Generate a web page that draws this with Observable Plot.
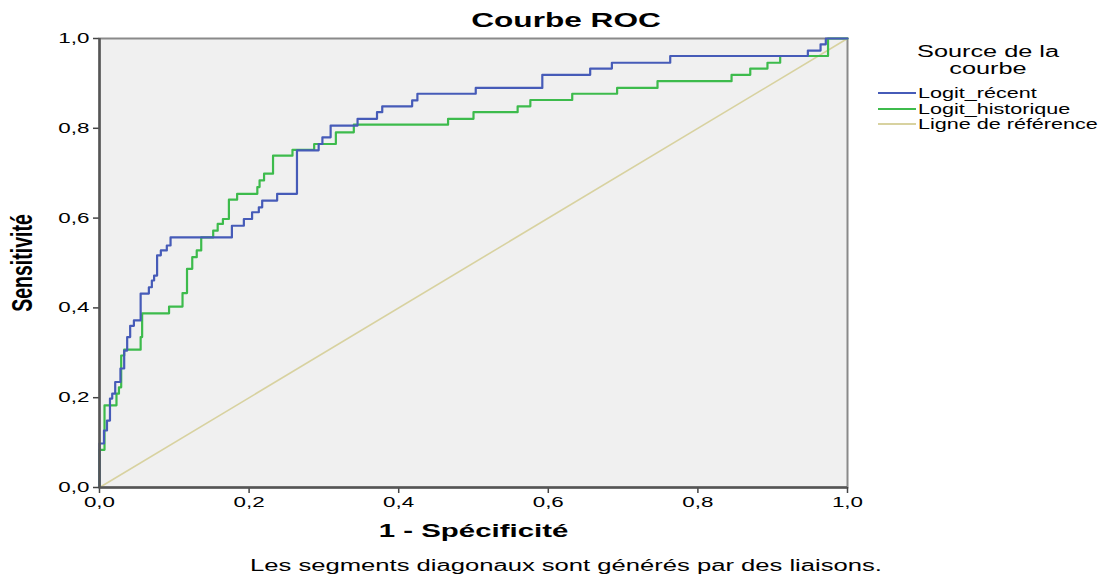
<!DOCTYPE html>
<html>
<head>
<meta charset="utf-8">
<script src="https://cdn.jsdelivr.net/npm/d3@7"></script>
<script src="https://cdn.jsdelivr.net/npm/@observablehq/plot@0.6"></script>
<style>
  html, body { margin: 0; padding: 0; background: #fff; }
  #wrap { position: relative; width: 1106px; height: 577px; font-family: "Liberation Sans", Arial, sans-serif; }
  #wrap svg { position: absolute; left: 0; top: 0; }
  .t { position: absolute; white-space: nowrap; color: #000; }
  #title { left: 366px; width: 400px; top: 9px; text-align: center; font-weight: bold; font-size: 20px; transform: scaleX(1.58); transform-origin: 200px 0; }
  #caption { left: 166px; width: 800px; top: 557px; text-align: center; font-size: 16px; transform: scaleX(1.6); transform-origin: 400px 0; }
  #lt { left: 888px; width: 200px; top: 43px; text-align: center; font-size: 16px; line-height: 17px; transform: scaleX(1.58); transform-origin: 100px 0; }
  .row { position: absolute; left: 878px; height: 16px; display: flex; align-items: center; font-size: 14px; }
  .row .sw { display: inline-block; width: 38px; height: 2px; margin-right: 2px; }
  .row .nm { display: inline-block; transform: scaleX(1.54); transform-origin: 0 50%; }
</style>
</head>
<body>
<div id="wrap">
  <div id="title" class="t">Courbe ROC</div>
  <div id="lt" class="t"></div>
  <div id="caption" class="t">Les segments diagonaux sont générés par des liaisons.</div>
</div>
<script>
// ---- data ----
const seriesNames = ["Logit_récent", "Logit_historique", "Ligne de référence"];
const seriesColors = ["#465bb8", "#3dbb4c", "#d8d2a0"];

const recentX = [0, 0, 0.006, 0.010, 0.014, 0.017, 0.021, 0.028, 0.033, 0.037, 0.041, 0.046, 0.055, 0.066, 0.070, 0.073, 0.077, 0.082, 0.090, 0.095, 0.177, 0.193, 0.204, 0.213, 0.2175, 0.2375, 0.264, 0.293, 0.298, 0.309, 0.345, 0.371, 0.378, 0.418, 0.425, 0.503, 0.592, 0.656, 0.685, 0.763, 0.947, 0.964, 0.971, 1];
const recentY = [0, 0.098, 0.127, 0.149, 0.198, 0.209, 0.235, 0.265, 0.305, 0.335, 0.360, 0.372, 0.432, 0.446, 0.461, 0.472, 0.517, 0.528, 0.539, 0.557, 0.583, 0.598, 0.613, 0.624, 0.639, 0.654, 0.751, 0.765, 0.780, 0.806, 0.821, 0.836, 0.849, 0.862, 0.877, 0.890, 0.919, 0.933, 0.946, 0.961, 0.973, 0.987, 1.0, 1.0];

const histX = [0, 0, 0.0067, 0.0227, 0.026, 0.029, 0.033, 0.055, 0.057, 0.093, 0.111, 0.117, 0.124, 0.130, 0.136, 0.152, 0.158, 0.165, 0.173, 0.184, 0.211, 0.214, 0.220, 0.232, 0.258, 0.287, 0.316, 0.340, 0.466, 0.500, 0.559, 0.576, 0.632, 0.692, 0.746, 0.845, 0.870, 0.893, 0.910, 0.974, 1];
const histY = [0, 0.084, 0.183, 0.209, 0.223, 0.294, 0.307, 0.335, 0.388, 0.403, 0.433, 0.487, 0.513, 0.528, 0.557, 0.572, 0.587, 0.598, 0.641, 0.654, 0.669, 0.684, 0.699, 0.739, 0.752, 0.765, 0.791, 0.808, 0.821, 0.836, 0.849, 0.863, 0.877, 0.890, 0.905, 0.919, 0.933, 0.946, 0.961, 1.0, 1.0];

const refX = [0, 1];
const refY = [0, 1];

const ticks = [0, 0.2, 0.4, 0.6, 0.8, 1.0];
const tickLabels = ["0,0", "0,2", "0,4", "0,6", "0,8", "1,0"];
const xLabel = "1 - Spécificité";
const yLabel = "Sensitivité";
const legendTitle = ["Source de la", "courbe"];

// ---- build tables ----
const toRows = (xs, ys, s) => xs.map((x, i) => ({x, y: ys[i], s}));
const recent = toRows(recentX, recentY, seriesNames[0]);
const hist = toRows(histX, histY, seriesNames[1]);
const ref = toRows(refX, refY, seriesNames[2]);
const fmt = d => tickLabels[ticks.findIndex(t => Math.abs(t - d) < 1e-9)];

const chart = Plot.plot({
  width: 1106,
  height: 577,
  marginLeft: 99,
  marginRight: 259,
  marginTop: 38,
  marginBottom: 90,
  style: {fontFamily: "'Liberation Sans', Arial, sans-serif", fontSize: "14px", background: "transparent", color: "#000"},
  x: {domain: [0, 1], ticks: ticks, tickFormat: fmt, label: null},
  y: {domain: [0, 1], ticks: ticks, tickFormat: fmt, label: null},
  color: {domain: seriesNames, range: seriesColors},
  marks: [
    Plot.frame({fill: "#f0f0f0", stroke: "#8a8a8a", strokeWidth: 2}),
    Plot.line(ref, {x: "x", y: "y", stroke: "s", strokeWidth: 1.6}),
    Plot.line(hist, {x: "x", y: "y", stroke: "s", strokeWidth: 2.2, curve: "step-after"}),
    Plot.line(recent, {x: "x", y: "y", stroke: "s", strokeWidth: 2.2, curve: "step-after"}),
    Plot.axisX({ticks, tickFormat: fmt, tickSize: 6, tickPadding: 4, stroke: "#444", strokeWidth: 1.5, fontSize: 14, label: null}),
    Plot.axisY({ticks, tickFormat: fmt, tickSize: 6, tickPadding: 4, stroke: "#444", strokeWidth: 1.5, fontSize: 14, label: null}),
    Plot.ruleX([0], {stroke: "#555", strokeWidth: 2.5}),
    Plot.ruleY([0], {stroke: "#555", strokeWidth: 2.5}),
    Plot.text([xLabel], {frameAnchor: "bottom", dy: 49, fontWeight: "bold", fontSize: 19, fill: "#000"}),
    Plot.text([yLabel], {frameAnchor: "left", textAnchor: "middle", dx: -77, rotate: -90, fontWeight: "bold", fontSize: 19.5, fill: "#000"})
  ]
});
document.getElementById("wrap").appendChild(chart);

// stretch SVG texts horizontally (the reference type is wide), about each text's anchor
function stretch(t, s) {
  const bb = t.getBBox();
  const anchor = getComputedStyle(t).textAnchor;
  const ax = anchor === "end" ? bb.x + bb.width : anchor === "middle" ? bb.x + bb.width / 2 : bb.x;
  const ay = bb.y + bb.height / 2;
  const cons = t.transform.baseVal.consolidate();
  const m = cons ? cons.matrix : new DOMMatrix();
  const p = new DOMPoint(ax, ay).matrixTransform(m);
  const old = t.getAttribute("transform") || "";
  t.setAttribute("transform", `translate(${p.x},${p.y}) scale(${s},1) translate(${-p.x},${-p.y}) ${old}`);
}
chart.querySelectorAll("text").forEach(t => {
  const txt = t.textContent;
  if (txt === xLabel) stretch(t, 1.55);
  else if (txt === yLabel) stretch(t, 1.5);
  else stretch(t, 1.6);
});

// ---- legend ----
const wrap = document.getElementById("wrap");
document.getElementById("lt").innerHTML = legendTitle.join("<br>");
seriesNames.forEach((n, i) => {
  const r = document.createElement("div");
  r.className = "row";
  r.style.top = (85 + i * 15.7) + "px";
  const sw = document.createElement("span");
  sw.className = "sw";
  sw.style.background = seriesColors[i];
  const nm = document.createElement("span");
  nm.className = "nm";
  nm.textContent = n;
  r.appendChild(sw);
  r.appendChild(nm);
  wrap.appendChild(r);
});
</script>
</body>
</html>
